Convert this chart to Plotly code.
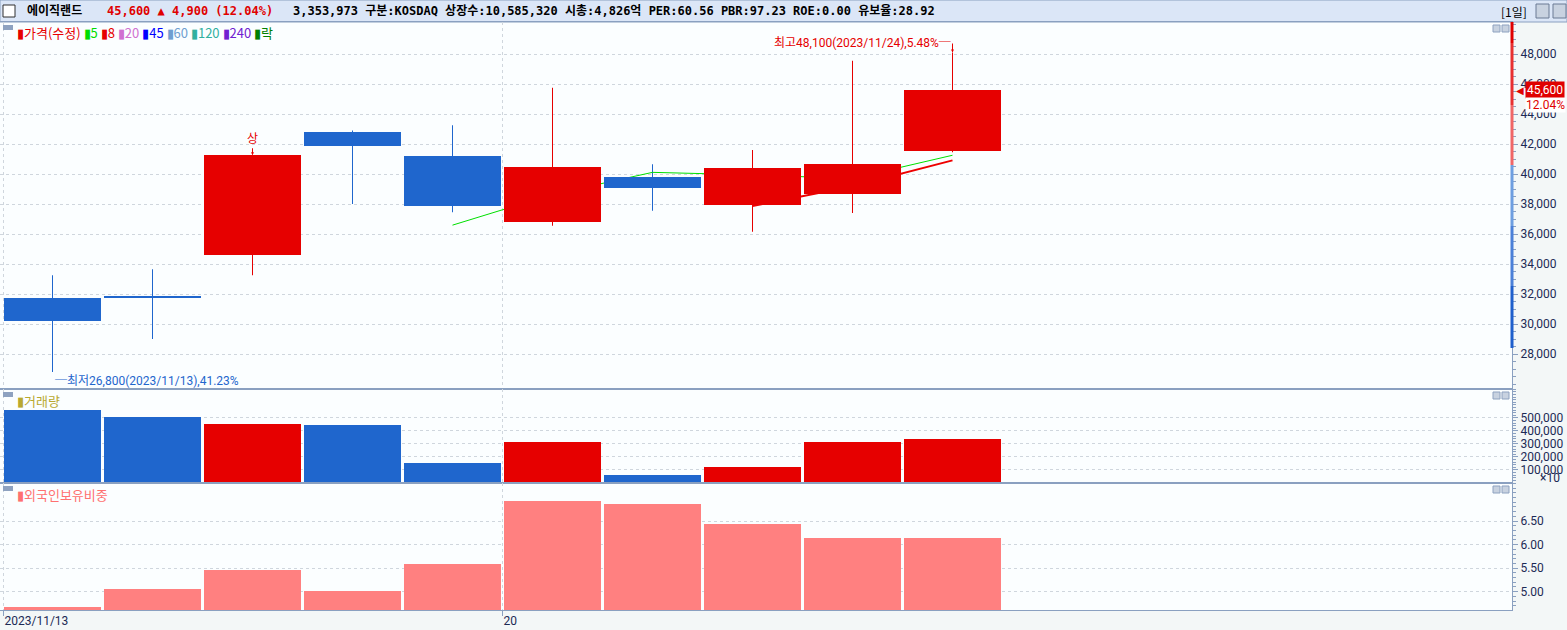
import plotly.graph_objects as go
from plotly.subplots import make_subplots

# daily candles (adjusted price)
dates = ["2023/11/13", "2023/11/14", "2023/11/15", "2023/11/16", "2023/11/17",
         "2023/11/20", "2023/11/21", "2023/11/22", "2023/11/23", "2023/11/24"]
opens = [31750, 31900, 34600, 42800, 41200, 36800, 39800, 37950, 38700, 41550]
highs = [33250, 33650, 41250, 42900, 43250, 45750, 40650, 41600, 47550, 48100]
lows = [26800, 29000, 33250, 38000, 37450, 36550, 37550, 36150, 37400, 41450]
closes = [30200, 31750, 41250, 41900, 37850, 40450, 39100, 40400, 40700, 45600]
ma5 = [None, None, None, None, 36590, 38640, 40110, 39940, 39700, 41250]
ma8 = [None, None, None, None, None, None, None, 37860, 39180, 40910]
volume = [561000, 508000, 454000, 446000, 154000, 315000, 62000, 123000, 315000, 335397]  # x10
foreign = [4.68, 5.06, 5.45, 5.02, 5.58, 6.93, 6.86, 6.44, 6.14, 6.14]

price_ticks = [28000, 30000, 32000, 34000, 36000, 38000, 40000, 42000, 44000, 46000, 48000]
vol_ticks = [100000, 200000, 300000, 400000, 500000]
foreign_ticks = [5.0, 5.5, 6.0, 6.5]
date_ticks = [-0.49, 4.5]
date_labels = ["2023/11/13", "20"]

# colour band on the price axis line
band_edges = [50133, 48733, 44600, 40600, 36533, 32533, 28400]
band_colors = ["#e00000", "#e83030", "#f06666", "#6d9ee0", "#4a80d8", "#1e5fcc"]

UP = "#e60000"
DOWN = "#1f66cd"
W, H = 1567, 630
XR = 1512 / W
PRICE_RANGE = [25667, 50133]

x = list(range(len(dates)))
colors = [UP if c >= o else DOWN for o, c in zip(opens, closes)]

fig = make_subplots(rows=3, cols=1, shared_xaxes=True, vertical_spacing=0)

# wicks
for col in (UP, DOWN):
    wx, wy = [], []
    for i, c in enumerate(colors):
        if c == col:
            wx += [i, i, None]
            wy += [lows[i], highs[i], None]
    fig.add_trace(go.Scatter(x=wx, y=wy, mode="lines", line=dict(color=col, width=1),
                             hoverinfo="skip", showlegend=False), row=1, col=1)

# moving averages (sit behind the candle bodies)
fig.add_trace(go.Scatter(x=x, y=ma5, mode="lines", line=dict(color="#00e000", width=1),
                         hoverinfo="skip", showlegend=False), row=1, col=1)
fig.add_trace(go.Scatter(x=x, y=ma8, mode="lines", line=dict(color="#ee0000", width=2),
                         hoverinfo="skip", showlegend=False), row=1, col=1)

# bodies on an overlaying axis so they cover the lines
fig.add_trace(go.Bar(x=x, y=[abs(c - o) for o, c in zip(opens, closes)],
                     base=[min(o, c) for o, c in zip(opens, closes)],
                     width=0.97, marker=dict(color=colors, line=dict(width=0)),
                     xaxis="x", yaxis="y4", hoverinfo="skip", showlegend=False))

fig.add_trace(go.Bar(x=x, y=volume, width=0.97, marker=dict(color=colors, line=dict(width=0)),
                     hoverinfo="skip", showlegend=False), row=2, col=1)

fig.add_trace(go.Bar(x=x, y=foreign, width=0.97, marker=dict(color="#ff8080", line=dict(width=0)),
                     hoverinfo="skip", showlegend=False), row=3, col=1)

tickfont = dict(family="Roboto, Noto Sans CJK KR", size=12, color="#1c2a55")
axline = "#8aa0c0"
grid = "#cfd6dd"

xcommon = dict(range=[-0.525, 14.595], domain=[0, XR], tickvals=date_ticks, ticktext=date_labels,
               showgrid=True, gridcolor=grid, griddash="dot", zeroline=False,
               showline=True, mirror=True, linecolor=axline, linewidth=1)
fig.update_layout(
    xaxis=dict(xcommon, showticklabels=False, ticks=""),
    xaxis2=dict(xcommon, showticklabels=False, ticks=""),
    xaxis3=dict(xcommon, ticks="outside", ticklen=5, tickcolor=axline,
                ticklabelposition="outside right", tickfont=tickfont),
)

ycommon = dict(side="right", showgrid=True, gridcolor=grid, griddash="dot", zeroline=False,
               showline=True, mirror=True, linecolor=axline, linewidth=1,
               ticks="outside", ticklen=5, tickcolor=axline, tickfont=tickfont,
               minor=dict(ticks="outside", ticklen=3, tickcolor=axline, showgrid=False))
fig.update_layout(
    yaxis=dict(ycommon, domain=[1 - 389 / H, 1 - 22 / H], range=PRICE_RANGE,
               tickvals=price_ticks, tickformat=",d", minor=dict(ycommon["minor"], dtick=500)),
    yaxis2=dict(ycommon, domain=[1 - 483 / H, 1 - 389 / H], range=[0, 722000],
                tickvals=vol_ticks, tickformat=",d", minor=dict(ycommon["minor"], dtick=20000)),
    yaxis3=dict(ycommon, domain=[1 - 610 / H, 1 - 483 / H], range=[4.61, 7.31],
                tickvals=foreign_ticks, tickformat=".2f", minor=dict(ycommon["minor"], dtick=0.1)),
    yaxis4=dict(overlaying="y", anchor="x", range=PRICE_RANGE, visible=False, showgrid=False),
)

shapes = []
# header bar
shapes.append(dict(type="rect", xref="paper", yref="paper", x0=0, x1=1, y0=1 - 22 / H, y1=1,
                   fillcolor="#dbe6f7", line=dict(color=axline, width=1), layer="below"))
shapes.append(dict(type="rect", xref="paper", yref="paper", x0=3 / W, x1=15 / W,
                   y0=1 - 17 / H, y1=1 - 5 / H, fillcolor="white", line=dict(color="#303030", width=1)))
for bx in (1536, 1553):
    shapes.append(dict(type="rect", xref="paper", yref="paper", x0=bx / W, x1=(bx + 13) / W,
                       y0=1 - 18 / H, y1=1 - 4 / H, fillcolor="#c8d2e0", line=dict(color="#6b7b94", width=1)))
# price axis colour band
for (top, bot), col in zip(zip(band_edges[:-1], band_edges[1:]), band_colors):
    shapes.append(dict(type="line", xref="paper", yref="y", x0=XR, x1=XR, y0=bot, y1=top,
                       line=dict(color=col, width=3)))
# panel corner icons
for ptop in (22, 389, 483):
    shapes.append(dict(type="rect", xref="paper", yref="paper", x0=3 / W, x1=13 / W,
                       y0=1 - (ptop + 8) / H, y1=1 - (ptop + 3) / H, fillcolor="#8ea2c0", line=dict(width=0)))
    for bx in (1493, 1502):
        shapes.append(dict(type="rect", xref="paper", yref="paper", x0=bx / W, x1=(bx + 7) / W,
                           y0=1 - (ptop + 10) / H, y1=1 - (ptop + 3) / H,
                           fillcolor="#c8d2e0", line=dict(color="#8ea2c0", width=1)))
fig.update_layout(shapes=shapes)

hdr = dict(family="DejaVu Sans Mono, Noto Sans CJK KR", size=12)
ann = []
ann.append(dict(text="<b>에이직랜드</b>", x=25 / W, y=1 - 11 / H, font=dict(hdr, color="#000000")))
ann.append(dict(text="<b>45,600 ▲ 4,900 (12.04%)</b>", x=105 / W, y=1 - 11 / H, font=dict(hdr, color="#e00000")))
ann.append(dict(text="<b>3,353,973 구분:KOSDAQ 상장수:10,585,320 시총:4,826억 PER:60.56 PBR:97.23 ROE:0.00 유보율:28.92</b>",
                x=291 / W, y=1 - 11 / H, font=dict(hdr, color="#000000")))
ann.append(dict(text="[1일]", x=1499 / W, y=1 - 11 / H, font=dict(family="Noto Sans CJK KR", size=12, color="#000000")))
for a in ann:
    a.update(xref="paper", yref="paper", xanchor="left", yanchor="middle", showarrow=False)

legend_items = [("가격(수정)", "#e60000"), ("5", "#00dd00"), ("8", "#e60000"), ("20", "#d070d0"),
                ("45", "#0000ff"), ("60", "#6f9fd0"), ("120", "#30b0a0"), ("240", "#7020d0"), ("락", "#008000")]
leg = " ".join(f"<span style='color:{c}'>▮{t}</span>" for t, c in legend_items)
small = dict(family="Noto Sans CJK KR", size=13)
ann.append(dict(text=leg, xref="paper", yref="paper", x=15 / W, y=1 - 32 / H, xanchor="left",
                yanchor="middle", showarrow=False, font=small))
ann.append(dict(text="▮거래량", xref="paper", yref="paper", x=15 / W, y=1 - 400 / H, xanchor="left",
                yanchor="middle", showarrow=False, font=dict(small, color="#b8a830")))
ann.append(dict(text="▮외국인보유비중", xref="paper", yref="paper", x=15 / W, y=1 - 494 / H, xanchor="left",
                yanchor="middle", showarrow=False, font=dict(small, color="#ff7070")))

# markers on the candles
mark = dict(family="Roboto, Noto Sans CJK KR", size=12)
ann.append(dict(text="상", x=2, y=highs[2], xref="x", yref="y", showarrow=True, arrowhead=2,
                arrowsize=0.6, arrowwidth=1, arrowcolor=UP, ax=0, ay=-7, yanchor="bottom",
                font=dict(mark, color=UP)))
ann.append(dict(text="최고48,100(2023/11/24),5.48%─", x=9, y=max(highs), xref="x", yref="y", showarrow=True,
                arrowhead=2, arrowsize=0.6, arrowwidth=1, arrowcolor=UP, ax=0, ay=-9,
                xanchor="right", font=dict(mark, color=UP)))
ann.append(dict(text="─최저26,800(2023/11/13),41.23%", x=0, y=min(lows), xref="x", yref="y", showarrow=True,
                arrowhead=2, arrowsize=0.6, arrowwidth=1, arrowcolor=DOWN, ax=0, ay=9,
                xanchor="left", font=dict(mark, color=DOWN)))

# current price box on axis
ann.append(dict(text="◀", xref="paper", yref="y", x=1514 / W, y=closes[-1], xanchor="left",
                yanchor="middle", showarrow=False, font=dict(size=10, color="#e00000")))
ann.append(dict(text="45,600", xref="paper", yref="y", x=1525 / W, y=closes[-1], xanchor="left",
                yanchor="middle", showarrow=False, bgcolor="#e00000", borderpad=1,
                font=dict(tickfont, color="white")))
ann.append(dict(text="12.04%", xref="paper", yref="y", x=1525 / W, y=closes[-1], yshift=-15,
                xanchor="left", yanchor="middle", showarrow=False, bgcolor="white", borderpad=0,
                font=dict(tickfont, color="#e00000")))
ann.append(dict(text="×10", xref="paper", yref="y2", x=1562 / W, y=vol_ticks[0], yshift=-8,
                xanchor="right", yanchor="middle", showarrow=False, font=tickfont))

fig.update_layout(
    annotations=ann,
    width=W, height=H,
    margin=dict(l=0, r=0, t=0, b=0),
    paper_bgcolor="#f3f7f7",
    plot_bgcolor="#fbfeff",
    showlegend=False,
    bargap=0,
    hovermode=False,
)

fig.write_html("out.html", config={"displayModeBar": False},
               post_script="document.body.style.margin='0';document.body.style.overflow='hidden';")
